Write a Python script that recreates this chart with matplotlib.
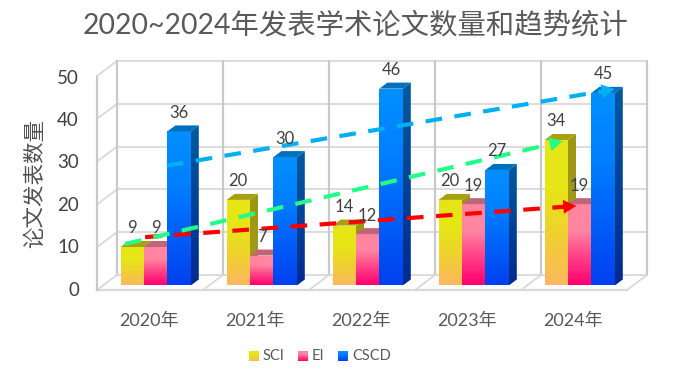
# 2020~2024 paper counts, fake 3D bars on a flat axes

import numpy as np
import matplotlib
matplotlib.use("Agg")
import matplotlib.pyplot as plt
from matplotlib.colors import LinearSegmentedColormap
from matplotlib.patches import Polygon

plt.rcParams['font.family'] = ['Lato', 'Noto Sans CJK SC', 'DejaVu Sans']

# Data
years = ["2020年", "2021年", "2022年", "2023年", "2024年"]
series = ["SCI", "EI", "CSCD"]
sci = [9, 20, 14, 20, 34]
ei = [9, 7, 12, 19, 19]
cscd = [36, 30, 46, 27, 45]
y_ticks = [0, 10, 20, 30, 40, 50]

# trend arrows, start and end as (group position, value)
trend_red = [(-0.10, 11.3), (3.97, 18.6)]
trend_green = [(-0.29, 9.7), (3.84, 33.7)]
trend_blue = [(0.106, 28.0), (4.33, 45.9)]

# Scales: pixels per group and per count
px_x = 106
px_y = 4.28
org_x = 155.7
org_y = 285.5
W, H = 674, 369

bar_w = 23.4/px_x
dep_x = 8/px_x
dep_y = 6/px_y

wall_dx = 20/px_x
back_x = (117-org_x)/px_x
back_off = 10.5/px_y
front_off = -4.5/px_y
y_top = 50*42.7/42.8

grid_c = "#d9d9d9"
post_c = "#c9c9c9"
text_c = "#404040"

front = {
    "SCI": ["#fbb860", "#f0d030", "#e6e616", "#e6e616"],
    "EI": ["#ff0070", "#ff3f85", "#ff85a0", "#ff85a0"],
    "CSCD": ["#0040f0", "#0060f8", "#0080ff", "#0090ff"],
}
side = {
    "SCI": ["#a89a20", "#9c9610"],
    "EI": ["#b03060", "#b06070"],
    "CSCD": ["#002a90", "#005a9e"],
}
top = {"SCI": "#a8a010", "EI": "#c06478", "CSCD": "#0070bd"}


def grad(ax, pts, colors, z):
    # vertical gradient clipped to a polygon
    pts = np.array(pts)
    cmap = LinearSegmentedColormap.from_list("g", colors)
    im = ax.imshow(np.linspace(1, 0, 128).reshape(-1, 1), cmap=cmap, vmin=0, vmax=1, aspect="auto",
                   extent=(pts[:, 0].min(), pts[:, 0].max(), pts[:, 1].min(), pts[:, 1].max()), zorder=z)
    p = Polygon(pts, closed=True, transform=ax.transData, fc="none", ec="none")
    ax.add_patch(p)
    im.set_clip_path(p)


def bar3d(ax, x, v, name, z):
    grad(ax, [(x, 0), (x+bar_w, 0), (x+bar_w, v), (x, v)], front[name], z)
    grad(ax, [(x+bar_w, 0), (x+bar_w+dep_x, dep_y), (x+bar_w+dep_x, v+dep_y), (x+bar_w, v)], side[name], z)
    ax.add_patch(Polygon([(x, v), (x+bar_w, v), (x+bar_w+dep_x, v+dep_y), (x+dep_x, v+dep_y)],
                         closed=True, fc=top[name], ec="none", zorder=z))


def trend(ax, pts, c):
    (x0, y0), (x1, y1) = pts
    ax.plot([x0, x1-0.05], [y0, y1-0.05*(y1-y0)/(x1-x0)], color=c, lw=3, ls=(0, (4, 3)), zorder=20)
    ax.annotate("", xy=(x1, y1), xytext=(x1-0.13, y1-0.13*(y1-y0)/(x1-x0)),
                arrowprops=dict(arrowstyle="-|>,head_length=0.95,head_width=0.5", color=c, lw=0, shrinkA=0, shrinkB=0),
                zorder=21)


# Figure
fig = plt.figure(figsize=(W/100, H/100), dpi=100)
ax = fig.add_axes([0, 0, 1, 1])
ax.axis("off")

# Walls and floor
for v in y_ticks[1:]:
    ax.plot([back_x, back_x+5], [v+back_off, v+back_off], color=grid_c, lw=1.3, zorder=1)
    ax.plot([back_x-wall_dx, back_x], [v+front_off, v+back_off], color=grid_c, lw=1.3, zorder=1)
ax.plot([back_x, back_x+5], [back_off, back_off], color=grid_c, lw=1.3, zorder=1)
ax.plot([back_x-wall_dx, back_x-wall_dx+5], [front_off, front_off], color=grid_c, lw=1.6, zorder=1)
for k in range(6):
    ax.plot([back_x+k, back_x+k], [back_off, y_top+back_off], color=post_c, lw=1.6, zorder=1)
    ax.plot([back_x+k-wall_dx, back_x+k], [front_off, back_off], color=grid_c, lw=1.3, zorder=1)
ax.plot([back_x-wall_dx, back_x-wall_dx], [front_off, y_top+front_off], color=post_c, lw=1.6, zorder=1)

# Bars
for i in range(len(years)):
    for j, (name, vals) in enumerate(zip(series, [sci, ei, cscd])):
        x = i+(j-1.5)*bar_w
        bar3d(ax, x, vals[i], name, 5+j+i*3)
        ax.text(x+bar_w/2, vals[i]+18.5/px_y, str(vals[i]), ha="center", va="center",
                fontsize=12, color=text_c, zorder=30)
    ax.text(i-6.5/px_x, -35.5/px_y, years[i], ha="center", va="center", fontsize=13, color="#595959")

# Trend arrows
trend(ax, trend_red, "#ff0000")
trend(ax, trend_green, "#22ff88")
trend(ax, trend_blue, "#00b0f0")

# Y axis text
for v in y_ticks:
    ax.text((79-org_x)/px_x, v*0.99-4.6/px_y, str(v), ha="right", va="center", fontsize=13.5, color=text_c)
ax.text((35-org_x)/px_x, (org_y-183)/px_y, "论文发表数量", rotation=90, ha="center", va="center",
        fontsize=15.5, color="#505050")

# Legend
leg_x = [249, 298, 338]
for lx, name in zip(leg_x, series):
    x0, x1 = (lx-org_x)/px_x, (lx+10-org_x)/px_x
    y0, y1 = (org_y-361)/px_y, (org_y-351)/px_y
    grad(ax, [(x0, y0), (x1, y0), (x1, y1), (x0, y1)], front[name], 5)
    ax.text((lx+14-org_x)/px_x, (org_y-356)/px_y, name, ha="left", va="center", fontsize=10.5, color="#595959")

# Title
ax.text((355-org_x)/px_x, (org_y-25.5)/px_y, "2020~2024年发表学术论文数量和趋势统计", ha="center", va="center",
        fontsize=20.4, color="#595959")

ax.set_xlim(-org_x/px_x, (W-org_x)/px_x)
ax.set_ylim((org_y-H)/px_y, org_y/px_y)

fig.savefig("out.png", dpi=100)
